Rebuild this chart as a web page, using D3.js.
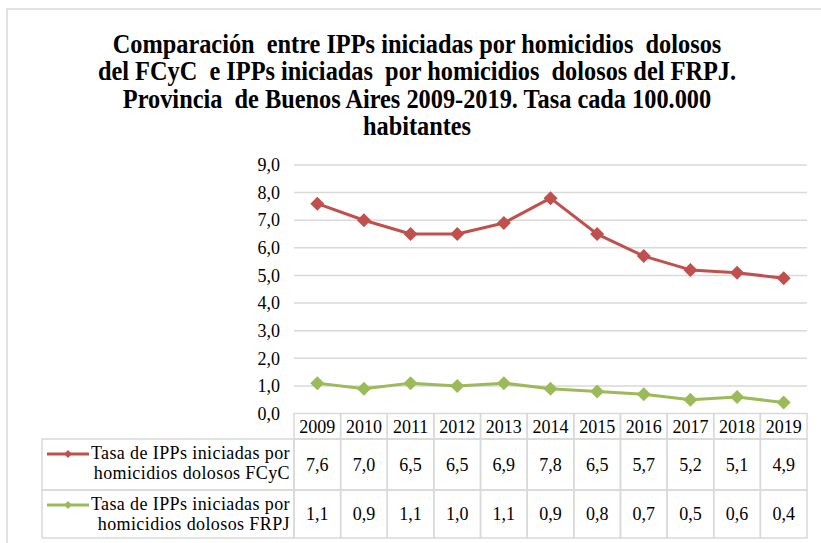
<!DOCTYPE html>
<html>
<head>
  <meta charset="utf-8">
  <title>Comparación IPPs homicidios dolosos</title>
  <script src="https://d3js.org/d3.v7.min.js"></script>
</head>
<style>
  body { margin: 0; background: white; }
  svg { display: block; }
  svg text { font-family: "Liberation Serif", "Times New Roman", "DejaVu Serif", serif; fill: #000; }
</style>
<body>
</body>
<script>

  var years = ['2009', '2010', '2011', '2012', '2013', '2014', '2015', '2016', '2017', '2018', '2019'];
  var fcycValues = [7.6, 7.0, 6.5, 6.5, 6.9, 7.8, 6.5, 5.7, 5.2, 5.1, 4.9];
  var frpjValues = [1.1, 0.9, 1.1, 1.0, 1.1, 0.9, 0.8, 0.7, 0.5, 0.6, 0.4];
  var yTicks = [0, 1, 2, 3, 4, 5, 6, 7, 8, 9];
  var titleLines = [
    'Comparación  entre IPPs iniciadas por homicidios  dolosos',
    'del FCyC  e IPPs iniciadas  por homicidios  dolosos del FRPJ.',
    'Provincia  de Buenos Aires 2009-2019. Tasa cada 100.000',
    'habitantes'
  ];
  var seriesNames = [
    ['Tasa de IPPs iniciadas por', 'homicidios dolosos FCyC'],
    ['Tasa de IPPs iniciadas por', 'homicidios dolosos FRPJ']
  ];

  var series = [
    {name: seriesNames[0], values: fcycValues, color: '#c0504d'},
    {name: seriesNames[1], values: frpjValues, color: '#9bbb59'}
  ];

  var width = 821, height = 543;
  var plot = {left: 294, right: 807, top: 165, bottom: 413.5};
  var gridColor = '#d9d9d9';
  var serif = '"Liberation Serif", "Times New Roman", "DejaVu Serif", serif';

  var es = d3.formatLocale({decimal: ',', thousands: '.', grouping: [3], currency: ['$', '']});
  var fmt = es.format('.1f');

  var svg = d3.select('body').append('svg')
    .attr('width', width)
    .attr('height', height);

  // outer chart frame (runs off the right/bottom edge)
  svg.append('rect')
    .attr('x', 7).attr('y', 9)
    .attr('width', 900).attr('height', 600)
    .attr('fill', 'none')
    .attr('stroke', gridColor)
    .attr('stroke-width', 1.5);

  // title - squeezed horizontally like the original
  var title = svg.append('g');
  title.selectAll('text')
    .data(titleLines)
    .enter().append('text')
      .attr('x', 0)
      .attr('y', function(d, i) { return 53 + i * 27.5; })
      .attr('text-anchor', 'middle')
      .attr('font-family', serif)
      .attr('font-size', 27)
      .attr('font-weight', 'bold')
      .style('white-space', 'pre')
      .text(function(d) { return d; });
  var firstLen = title.select('text').node().getComputedTextLength();
  title.attr('transform', 'translate(417,0) scale(' + (609 / firstLen) + ',1)');

  var xScale = d3.scaleBand()
    .domain(years)
    .range([plot.left, plot.right]);

  var yScale = d3.scaleLinear()
    .domain([0, 9])
    .range([plot.bottom, plot.top]);

  // gridlines
  svg.append('g')
    .selectAll('line')
    .data(yTicks.filter(function(t) { return t > 0; }))
    .enter().append('line')
      .attr('x1', plot.left)
      .attr('x2', plot.right)
      .attr('y1', function(d) { return yScale(d); })
      .attr('y2', function(d) { return yScale(d); })
      .attr('stroke', gridColor)
      .attr('stroke-width', 1.5);

  // y axis labels
  var yAxis = svg.append('g')
    .attr('transform', 'translate(292,0)')
    .call(d3.axisLeft(yScale).tickValues(yTicks).tickFormat(fmt).tickSize(0).tickPadding(12));
  yAxis.select('.domain').remove();
  yAxis.attr('font-family', serif).attr('font-size', 18);
  yAxis.selectAll('text').attr('fill', '#000');

  function diamond(r) {
    return 'M0,' + (-r) + 'L' + r + ',0L0,' + r + 'L' + (-r) + ',0Z';
  }

  var line = d3.line()
    .x(function(d, i) { return xScale(years[i]) + xScale.bandwidth() / 2; })
    .y(function(d) { return yScale(d); });

  series.forEach(function(s) {
    svg.append('path')
      .datum(s.values)
      .attr('d', line)
      .attr('fill', 'none')
      .attr('stroke', s.color)
      .attr('stroke-width', 3)
      .attr('stroke-linejoin', 'round');

    svg.append('g').selectAll('path')
      .data(s.values)
      .enter().append('path')
        .attr('d', diamond(7))
        .attr('fill', s.color)
        .attr('transform', function(d, i) {
          return 'translate(' + (xScale(years[i]) + xScale.bandwidth() / 2) + ',' + yScale(d) + ')';
        });
  });

  // data table
  var headerTop = plot.bottom, headerBottom = 439;
  var rowBounds = [[439, 490], [490, 538]];
  var legendLeft = 42;
  var table = svg.append('g').attr('font-family', serif);

  // header cells
  table.selectAll('.hcell')
    .data(years)
    .enter().append('rect')
      .attr('class', 'hcell')
      .attr('x', function(d) { return xScale(d); })
      .attr('y', headerTop)
      .attr('width', xScale.bandwidth())
      .attr('height', headerBottom - headerTop)
      .attr('fill', 'none')
      .attr('stroke', gridColor)
      .attr('stroke-width', 1.5);

  table.selectAll('.htext')
    .data(years)
    .enter().append('text')
      .attr('class', 'htext')
      .attr('x', function(d) { return xScale(d) + xScale.bandwidth() / 2; })
      .attr('y', 433)
      .attr('text-anchor', 'middle')
      .attr('font-size', 18)
      .text(function(d) { return d; });

  series.forEach(function(s, si) {
    var top = rowBounds[si][0], bottom = rowBounds[si][1];
    var mid = (top + bottom) / 2;

    table.append('rect')
      .attr('x', legendLeft).attr('y', top)
      .attr('width', plot.left - legendLeft).attr('height', bottom - top)
      .attr('fill', 'none').attr('stroke', gridColor).attr('stroke-width', 1.5);

    table.append('g').selectAll('rect')
      .data(years)
      .enter().append('rect')
        .attr('x', function(d) { return xScale(d); })
        .attr('y', top)
        .attr('width', xScale.bandwidth())
        .attr('height', bottom - top)
        .attr('fill', 'none')
        .attr('stroke', gridColor)
        .attr('stroke-width', 1.5);

    table.append('g').selectAll('text')
      .data(s.values)
      .enter().append('text')
        .attr('x', function(d, i) { return xScale(years[i]) + xScale.bandwidth() / 2; })
        .attr('y', mid + 6)
        .attr('text-anchor', 'middle')
        .attr('font-size', 18)
        .text(function(d) { return fmt(d); });

    // legend key
    var ky = top + 15;
    table.append('line')
      .attr('x1', 47).attr('x2', 89)
      .attr('y1', ky).attr('y2', ky)
      .attr('stroke', s.color).attr('stroke-width', 3);
    table.append('path')
      .attr('d', diamond(4))
      .attr('fill', s.color)
      .attr('transform', 'translate(68,' + ky + ')');

    table.append('g').selectAll('text')
      .data(s.name)
      .enter().append('text')
        .attr('x', 290)
        .attr('y', function(d, i) { return top + 20 + i * 19.5; })
        .attr('text-anchor', 'end')
        .attr('font-size', 18)
        .attr('letter-spacing', 0.4)
        .text(function(d) { return d; });
  });

</script>
</html>
